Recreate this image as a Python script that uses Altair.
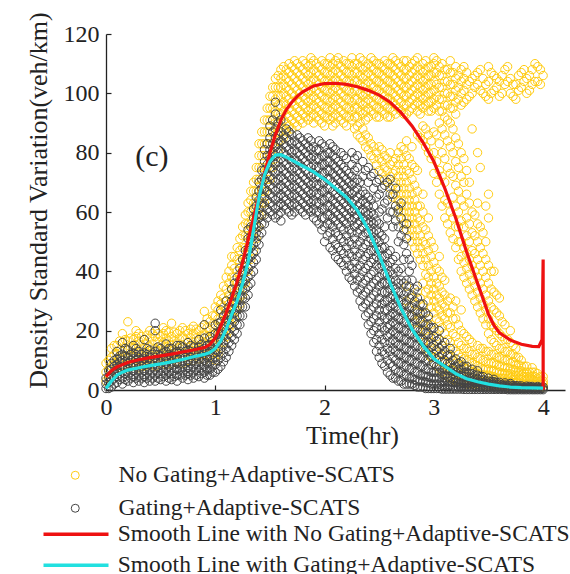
import altair as alt
import pandas as pd

NO_GATE = "No Gating+Adaptive-SCATS"
GATE = "Gating+Adaptive-SCATS"
SMOOTH_NO = "Smooth Line with No Gating+Adaptive-SCATS"
SMOOTH_G = "Smooth Line with Gating+Adaptive-SCATS"

x_ticks = [0, 1, 2, 3, 4]
y_ticks = [0, 20, 40, 60, 80, 100, 120]

# sample times (hr), first set
times = [0.0, 0.05, 0.1, 0.15, 0.2, 0.25, 0.3, 0.35, 0.4, 0.45,
         0.5, 0.55, 0.6, 0.65, 0.7, 0.75, 0.8, 0.85, 0.9, 0.95,
         1.0, 1.05, 1.1, 1.15, 1.2, 1.25, 1.3, 1.35, 1.4, 1.45,
         1.5, 1.55, 1.6, 1.65, 1.7, 1.75, 1.8, 1.85, 1.9, 1.95,
         2.0, 2.05, 2.1, 2.15, 2.2, 2.25, 2.3, 2.35, 2.4, 2.45,
         2.5, 2.55, 2.6, 2.65, 2.7, 2.75, 2.8, 2.85, 2.9, 2.95,
         3.0, 3.05, 3.1, 3.15, 3.2, 3.25, 3.3, 3.35, 3.4, 3.45,
         3.5, 3.55, 3.6, 3.65, 3.7, 3.75, 3.8, 3.85, 3.9, 3.95, 4.0]

# sample times (hr), second set
times_b = [0.025, 0.075, 0.125, 0.175, 0.225, 0.275, 0.325, 0.375, 0.425, 0.475,
           0.525, 0.575, 0.625, 0.675, 0.725, 0.775, 0.825, 0.875, 0.925, 0.975,
           1.025, 1.075, 1.125, 1.175, 1.225, 1.275, 1.325, 1.375, 1.425, 1.475,
           1.525, 1.575, 1.625, 1.675, 1.725, 1.775, 1.825, 1.875, 1.925, 1.975,
           2.025, 2.075, 2.125, 2.175, 2.225, 2.275, 2.325, 2.375, 2.425, 2.475,
           2.525, 2.575, 2.625, 2.675, 2.725, 2.775, 2.825, 2.875, 2.925, 2.975,
           3.025, 3.075, 3.125, 3.175, 3.225, 3.275, 3.325, 3.375, 3.425, 3.475,
           3.525, 3.575, 3.625, 3.675, 3.725, 3.775, 3.825, 3.875, 3.925, 3.975]

# No Gating + Adaptive-SCATS scatter values, first set
nogate_vals = [
    [3, 6, 9], [5, 8, 11, 14], [6, 9, 12, 15], [7, 10, 13, 16, 19],
    [7.5, 10.5, 13.5, 16.5, 23], [8, 11, 14, 17], [7.5, 10.5, 13.5, 16.5, 19],
    [8, 11, 14, 17], [8.5, 11.5, 14.5, 17.5, 20], [8, 11, 14, 18],
    [9, 12, 15, 18], [8.5, 11.5, 14.5, 17.5, 20], [9, 12, 15, 18, 22.5],
    [9.5, 12.5, 15.5, 19], [9, 12, 15, 18, 21], [10, 13, 16, 19],
    [10, 13, 16, 19, 21.5], [10.5, 13.5, 16.5, 20], [10, 13, 16, 19, 22, 26.5],
    [11, 14, 17, 20, 23],
    [10, 13, 16, 19, 22, 25, 28],
    [14, 17, 20, 23, 26, 29, 32],
    [18, 21, 24, 27, 30, 34, 38],
    [22, 25, 28, 31, 34, 38, 42, 45],
    [27, 30, 33, 36, 40, 44, 48],
    [32, 36, 40, 44, 48, 52, 55],
    [40, 44, 48, 52, 56, 60, 63],
    [47, 51, 55, 59, 63, 67, 70],
    [55, 59, 63, 67, 71, 75, 79, 83],
    [63, 67, 71, 75, 79, 83, 87, 91],
    [71, 75, 79, 83, 87, 91, 95, 99],
    [78, 82, 86, 90, 94, 98, 102, 105],
    [84, 87, 90, 93, 96, 99, 102, 105, 108],
    [87, 90, 93, 96, 99, 102, 105, 108],
    [88, 91, 94, 97, 100, 103, 106, 109],
    [89, 92, 95, 98, 101, 104, 107, 110],
    [90, 93, 96, 99, 102, 105, 108, 111],
    [91, 94, 97, 100, 103, 106, 109],
    [90, 93, 96, 99, 102, 105, 108, 111],
    [91, 94, 97, 100, 103, 106, 109],
    [89, 92, 95, 98, 101, 104, 107, 110],
    [91, 94, 97, 100, 103, 106, 109, 112],
    [90, 93, 96, 99, 102, 105, 108, 111],
    [91, 94, 97, 100, 103, 106, 109],
    [89, 92, 95, 98, 101, 104, 107, 110],
    [91, 94, 97, 100, 103, 106, 109, 112],
    [86, 89, 92, 95, 98, 101, 104, 107, 110],
    [84, 88, 93, 96, 99, 102, 105, 108, 111],
    [81, 85, 92, 95, 98, 101, 104, 107, 110],
    [78, 82, 93, 96, 99, 102, 105, 108, 111],
    [74, 78, 82, 92, 95, 98, 101, 104, 107, 110],
    [71, 75, 79, 93, 96, 99, 102, 105, 108, 111],
    [68, 72, 76, 80, 92, 95, 98, 101, 104, 107, 110],
    [62, 66, 70, 74, 78, 93, 96, 99, 102, 105, 108, 111],
    [58, 62, 66, 70, 74, 78, 82, 94, 97, 100, 103, 106, 109],
    [30, 35, 54, 58, 62, 66, 70, 74, 79, 84, 93, 96, 99, 102, 105, 108, 111],
    [25, 31, 50, 54, 58, 62, 66, 71, 76, 82, 95, 98, 101, 104, 107, 110],
    [20, 26, 33, 46, 50, 54, 58, 62, 67, 74, 86, 94, 97, 100, 103, 106, 109, 112],
    [16, 22, 28, 36, 42, 46, 50, 55, 60, 66, 84, 89, 95, 98, 101, 104, 107, 110],
    [12, 18, 24, 30, 34, 38, 42, 47, 52, 58, 80, 86, 94, 97, 100, 103, 106, 109],
    [9, 14, 20, 26, 30, 34, 38, 43, 48, 73, 80, 87, 95, 98, 101, 104, 107, 110, 112],
    [7, 12, 17, 23, 27, 31, 35, 40, 45, 66, 74, 83, 90, 94, 98, 102, 106, 109],
    [5, 9, 14, 19, 24, 28, 32, 37, 58, 64, 70, 78, 86, 92, 96, 100, 104, 108],
    [4, 7, 11, 16, 21, 26, 31, 53, 60, 73, 82, 90, 95, 99, 103, 107, 111],
    [3, 6, 9, 13, 18, 24, 30, 48, 55, 62, 69, 77, 85, 93, 97, 101, 105, 109],
    [3, 5, 8, 11, 15, 20, 27, 40, 45, 50, 57, 64, 72, 80, 96, 100, 104, 108],
    [2, 4, 7, 10, 14, 18, 36, 41, 46, 52, 58, 66, 74, 98, 103, 107],
    [2, 4, 6, 9, 12, 16, 32, 37, 42, 47, 53, 60, 88, 100, 105],
    [2, 3.5, 5.5, 8, 11, 15, 28, 33, 38, 44, 50, 56, 63, 80, 103, 107],
    [1.5, 3, 5, 7, 10, 14, 24, 29, 34, 40, 46, 53, 100, 105],
    [1.5, 3, 5, 7, 9, 13, 19, 24, 30, 36, 42, 58, 66, 98, 104, 109],
    [1.5, 3, 4.5, 6.5, 9, 12, 16, 21, 27, 33, 40, 101, 106],
    [1.5, 2.5, 4, 6, 8, 11, 14, 19, 25, 31, 99, 104],
    [1.5, 2.5, 4, 5.5, 7.5, 10, 13, 17, 22, 103, 108],
    [1.2, 2.5, 4, 5.5, 7, 9, 12, 16, 20, 100, 105],
    [1.2, 2.5, 3.5, 5, 6.5, 8.5, 11, 14, 98, 103],
    [1, 2, 3.5, 5, 6.5, 8, 10, 102, 107],
    [1, 2, 3, 4.5, 6, 8, 100, 105],
    [1, 2, 3, 4.5, 6, 7.5, 103, 108],
    [1, 2, 3, 4, 5.5, 104, 109],
    [1, 2, 3, 4.5, 106],
]

# No Gating + Adaptive-SCATS scatter values, second set
nogate_vals_b = [
    [4, 7, 10], [6, 9, 12, 15], [7.5, 10.5, 13.5, 16.5], [8, 11, 14, 17],
    [8.5, 11.5, 14.5, 17.5], [9, 12, 15, 18, 20], [9, 12, 15, 18],
    [9.5, 12.5, 15.5, 18.5], [9.5, 12.5, 15.5, 19], [10, 13, 16, 19],
    [10, 13, 16, 19, 21], [10.5, 13.5, 16.5, 19.5], [10.5, 13.5, 16.5, 19.5],
    [11, 14, 17, 20], [11, 14, 17, 20], [11.5, 14.5, 17.5, 20.5],
    [11.5, 14.5, 17.5, 20.5], [12, 15, 18, 21], [12, 15, 18, 21, 24],
    [12.5, 15.5, 18.5, 21.5, 25],
    [12, 15, 18, 21, 24, 27, 30],
    [16, 19, 22, 25, 28, 31, 35],
    [20, 23, 26, 29, 32, 36, 40],
    [24, 27, 30, 33, 37, 41, 45],
    [29, 32, 35, 39, 43, 47, 51],
    [36, 40, 44, 48, 52, 56, 59],
    [44, 48, 52, 56, 60, 64, 67],
    [51, 55, 59, 63, 67, 71, 75],
    [59, 63, 67, 71, 75, 79, 83, 87],
    [67, 71, 75, 79, 83, 87, 91, 95],
    [75, 79, 83, 87, 91, 95, 99, 102],
    [81, 84, 87, 90, 93, 96, 99, 102, 106],
    [85, 88, 91, 94, 97, 100, 103, 106, 109],
    [89, 92, 95, 98, 101, 104, 107, 110],
    [90, 93, 96, 99, 102, 105, 108, 111],
    [91, 94, 97, 100, 103, 106, 109],
    [92, 95, 98, 101, 104, 107, 110],
    [92, 95, 98, 101, 104, 107, 110, 112],
    [92, 95, 98, 101, 104, 107, 110],
    [90, 93, 96, 99, 102, 105, 108, 111],
    [92, 95, 98, 101, 104, 107, 110],
    [89, 92, 95, 98, 101, 104, 107, 110],
    [92, 95, 98, 101, 104, 107, 110, 112],
    [90, 93, 96, 99, 102, 105, 108, 111],
    [92, 95, 98, 101, 104, 107, 110],
    [88, 92, 95, 98, 101, 104, 107, 110],
    [85, 90, 94, 97, 100, 103, 106, 109, 112],
    [82, 86, 91, 94, 97, 100, 103, 106, 109],
    [79, 83, 94, 97, 100, 103, 106, 109, 112],
    [76, 80, 92, 95, 98, 101, 104, 107, 110],
    [73, 77, 81, 94, 97, 100, 103, 106, 109],
    [70, 74, 78, 92, 95, 98, 101, 104, 107, 110],
    [65, 69, 73, 77, 94, 97, 100, 103, 106, 109, 112],
    [60, 64, 68, 72, 76, 80, 95, 98, 101, 104, 107, 110],
    [56, 60, 64, 68, 72, 76, 81, 93, 96, 99, 102, 105, 108, 111],
    [28, 52, 56, 60, 64, 68, 73, 78, 94, 97, 100, 103, 106, 109],
    [23, 29, 48, 52, 56, 60, 64, 69, 75, 96, 99, 102, 105, 108, 111],
    [18, 24, 31, 44, 48, 52, 57, 62, 85, 93, 96, 99, 102, 105, 108],
    [14, 20, 26, 33, 39, 44, 49, 54, 82, 88, 96, 99, 102, 105, 108, 111],
    [11, 16, 22, 28, 32, 36, 40, 45, 50, 78, 84, 94, 97, 100, 103, 106, 109],
    [8, 13, 18, 24, 28, 32, 36, 41, 70, 77, 86, 96, 99, 103, 107, 111],
    [6, 10, 15, 21, 25, 29, 33, 38, 62, 72, 80, 88, 94, 98, 102, 106, 110],
    [4.5, 8, 12, 17, 22, 26, 30, 56, 63, 75, 84, 91, 96, 100, 104, 108],
    [3.5, 6.5, 10, 14, 19, 24, 28, 51, 58, 65, 72, 80, 88, 95, 99, 103, 107],
    [3, 5.5, 8.5, 12, 16, 22, 44, 50, 55, 60, 67, 75, 83, 98, 102, 106],
    [2.5, 4.5, 7.5, 10.5, 14, 19, 38, 43, 48, 55, 62, 70, 78, 97, 101, 105, 109],
    [2, 4, 6.5, 9.5, 13, 17, 34, 39, 44, 50, 56, 63, 70, 99, 104],
    [2, 3.5, 6, 8.5, 12, 30, 35, 40, 46, 52, 59, 102, 106],
    [1.5, 3, 5, 7.5, 10.5, 14, 26, 31, 36, 42, 48, 55, 75, 101, 108],
    [1.5, 3, 5, 7, 9.5, 13, 22, 27, 32, 38, 44, 50, 62, 99, 103],
    [1.5, 3, 4.5, 6.5, 9, 12, 17, 22, 28, 34, 40, 100, 107],
    [1.5, 2.5, 4, 6, 8.5, 11, 15, 20, 26, 32, 102, 105],
    [1.5, 2.5, 4, 5.5, 8, 10.5, 14, 18, 23, 100, 106],
    [1.2, 2.5, 4, 5.5, 7.5, 10, 13, 17, 104, 109],
    [1.2, 2.5, 3.5, 5, 7, 9.5, 12, 15, 99, 103],
    [1, 2, 3.5, 5, 6.5, 8.5, 11, 101, 106],
    [1, 2, 3, 4.5, 6, 8, 104, 108],
    [1, 2, 3, 4.5, 6, 101, 106],
    [1, 2, 3, 4.5, 6, 104, 110],
    [1, 2, 3, 4.5, 103, 108],
]

# Gating + Adaptive-SCATS scatter values, first set
gate_vals = [
    [0.5, 2, 4], [1, 3, 5, 7, 9], [2.5, 4.5, 6.5, 8.5, 10.5, 13],
    [2, 4, 6, 8, 10, 12, 16], [3, 5, 7, 9, 11, 13.5], [2.5, 4.5, 6.5, 8.5, 10.5, 12.5, 15],
    [3, 5, 7, 9, 11, 13], [2.5, 4.5, 6.5, 8.5, 10.5, 12.5, 17], [3, 5, 7, 9, 11, 13.5],
    [3, 5, 7, 9, 11, 13, 20, 22.5], [3.5, 5.5, 7.5, 9.5, 11.5, 14], [3, 5, 7, 9, 11, 13, 15.5],
    [3.5, 5.5, 7.5, 9.5, 11.5, 14], [3, 5, 7, 9, 11, 13, 15], [4, 6, 8, 10, 12, 14.5],
    [3.5, 5.5, 7.5, 9.5, 11.5, 13.5, 16], [4, 6, 8, 10, 12, 14.5],
    [4.5, 6.5, 8.5, 10.5, 12.5, 14.5, 17], [4, 6, 8, 10, 12, 14, 17.5, 22],
    [5, 7, 9, 11, 13, 15, 18],
    [6, 8.5, 11, 13.5, 16, 19, 22],
    [8, 11, 14, 17, 20, 23, 27],
    [11, 14, 17, 20, 23, 26, 30],
    [15, 18, 21, 24, 27, 30, 34],
    [19, 22, 25, 28, 31, 34, 38],
    [25, 28, 31, 34, 37, 40, 44],
    [32, 35, 38, 41, 44, 47, 51, 54],
    [40, 43, 46, 49, 52, 55, 58, 61],
    [49, 52, 55, 58, 61, 64, 67, 70],
    [56, 59, 62, 65, 68, 71, 74, 77, 81],
    [60, 63, 66, 69, 72, 75, 78, 81, 85, 89],
    [58, 61, 64, 67, 70, 73, 76, 79, 82, 85, 88, 93, 97],
    [57, 60, 63, 66, 69, 72, 75, 78, 81, 84, 87, 91],
    [61, 64, 67, 70, 73, 76, 79, 82, 85, 88],
    [59, 62, 65, 68, 71, 74, 77, 80, 83, 86],
    [62, 65, 68, 71, 74, 77, 80, 83, 86],
    [60, 63, 66, 69, 72, 75, 78, 81, 84],
    [61, 64, 67, 70, 73, 76, 79, 82, 85],
    [58, 61, 64, 67, 70, 73, 76, 79, 82],
    [56, 60, 63, 66, 69, 72, 75, 78, 81, 84],
    [50, 55, 58, 61, 64, 67, 70, 73, 76, 79, 82],
    [48, 53, 56, 59, 62, 65, 68, 71, 74, 77, 80, 83],
    [45, 49, 53, 57, 60, 63, 66, 69, 72, 75, 78, 81],
    [43, 47, 51, 55, 58, 61, 64, 67, 70, 73, 76, 80],
    [40, 44, 48, 52, 56, 59, 62, 65, 68, 71, 74, 78],
    [37, 41, 45, 49, 53, 57, 60, 63, 66, 69, 72, 76, 80],
    [33, 37, 41, 45, 49, 53, 56, 59, 62, 65, 68, 71, 75, 79],
    [28, 32, 36, 40, 44, 48, 52, 55, 58, 61, 64, 67, 72, 77],
    [22, 26, 30, 34, 38, 42, 46, 50, 53, 56, 59, 62, 65, 70, 75],
    [16, 20, 24, 28, 32, 36, 40, 44, 47, 50, 53, 56, 59, 62, 68, 73],
    [11, 15, 19, 23, 27, 31, 35, 38, 41, 44, 47, 50, 53, 56, 60, 66, 71],
    [8, 12, 16, 20, 24, 27, 30, 33, 36, 39, 42, 45, 48, 51, 55, 63, 69],
    [5, 9, 13, 16, 19, 22, 25, 28, 31, 34, 37, 40, 43, 47, 60, 66, 71],
    [4, 7, 10, 13, 16, 19, 22, 25, 28, 31, 34, 37, 41, 45, 57, 62, 68],
    [3, 6, 9, 12, 15, 18, 21, 24, 27, 30, 33, 37, 41, 52, 58, 63],
    [2, 5, 8, 11, 14, 17, 20, 23, 26, 29, 33, 37, 46, 51, 56],
    [2, 4, 7, 10, 13, 16, 19, 22, 25, 28, 32, 37, 42],
    [1, 3, 6, 9, 12, 15, 18, 21, 24, 27, 31, 35],
    [1, 3, 5, 8, 11, 14, 17, 20, 23, 26, 29],
    [0.5, 2.5, 4.5, 7, 10, 13, 16, 19, 22, 25],
    [0.5, 2, 4, 6, 9, 12, 15, 18, 21],
    [0.5, 2, 4, 6, 8, 11, 14, 17, 20],
    [0.3, 1.5, 3, 5, 7, 10, 13, 16],
    [0.3, 1.5, 3, 4.5, 6.5, 9, 12, 14],
    [0.3, 1.2, 2.5, 4, 6, 8, 10.5],
    [0.3, 1, 2, 3.5, 5, 7, 9.5],
    [0.2, 1, 2, 3, 4.5, 6, 8],
    [0.2, 1, 2, 3, 4, 5.5, 7],
    [0.2, 0.8, 1.6, 2.6, 3.6, 5, 6.5],
    [0.2, 0.8, 1.5, 2.4, 3.4, 4.5],
    [0.2, 0.7, 1.4, 2.2, 3, 4],
    [0.2, 0.7, 1.3, 2, 2.8, 3.6],
    [0.2, 0.6, 1.2, 1.9, 2.6],
    [0.2, 0.6, 1.1, 1.7, 2.4],
    [0.1, 0.5, 1, 1.6, 2.2],
    [0.1, 0.5, 1, 1.5],
    [0.1, 0.5, 0.9, 1.4],
    [0.1, 0.5, 0.9, 1.3],
    [0.1, 0.4, 0.8, 1.2],
    [0.1, 0.4, 0.8, 1.2],
    [0.1, 0.5, 1],
]

# Gating + Adaptive-SCATS scatter values, second set
gate_vals_b = [
    [0.5, 2.5, 4.5, 6.5], [2, 4, 6, 8, 10], [3.5, 5.5, 7.5, 9.5, 11.5],
    [3.5, 5.5, 7.5, 9.5, 11.5, 14], [4, 6, 8, 10, 12], [4, 6, 8, 10, 12, 14],
    [4, 6, 8, 10, 12], [4, 6, 8, 10, 12, 14], [4, 6, 8, 10, 12],
    [4, 6, 8, 10, 12, 14.5], [4.5, 6.5, 8.5, 10.5, 12.5], [4, 6, 8, 10, 12, 14],
    [4.5, 6.5, 8.5, 10.5, 12.5], [5, 7, 9, 11, 13, 15], [5, 7, 9, 11, 13],
    [5, 7, 9, 11, 13, 15], [5, 7, 9, 11, 13], [5.5, 7.5, 9.5, 11.5, 13.5, 15.5],
    [5, 7, 9, 11, 13, 15], [6, 8, 10, 12, 14, 16.5],
    [7, 10, 13, 16, 19, 22.5],
    [9.5, 12.5, 15.5, 18.5, 21.5, 25],
    [13, 16, 19, 22, 25, 28],
    [17, 20, 23, 26, 29, 32, 36],
    [22, 25, 28, 31, 34, 37, 41],
    [28, 31, 34, 37, 40, 43, 47],
    [36, 39, 42, 45, 48, 51, 55],
    [44, 47, 50, 53, 56, 59, 62, 65],
    [53, 56, 59, 62, 65, 68, 71, 74],
    [58, 61, 64, 67, 70, 73, 76, 79, 83],
    [59, 62, 65, 68, 71, 74, 77, 80, 83, 87, 91],
    [59, 62, 65, 68, 71, 74, 77, 80, 83, 86, 90],
    [62, 65, 68, 71, 74, 77, 80, 83, 86],
    [60, 63, 66, 69, 72, 75, 78, 81, 84, 87],
    [60, 63, 66, 69, 72, 75, 78, 81, 84],
    [61, 64, 67, 70, 73, 76, 79, 82, 85],
    [59, 62, 65, 68, 71, 74, 77, 80, 83],
    [60, 63, 66, 69, 72, 75, 78, 81, 84],
    [57, 60, 63, 66, 69, 72, 75, 78, 81],
    [54, 58, 61, 64, 67, 70, 73, 76, 79, 83],
    [52, 56, 59, 62, 65, 68, 71, 74, 77, 80],
    [47, 51, 55, 58, 61, 64, 67, 70, 73, 76, 79, 82],
    [44, 48, 52, 56, 59, 62, 65, 68, 71, 74, 77],
    [42, 46, 50, 54, 57, 60, 63, 66, 69, 72, 75, 79],
    [38, 42, 46, 50, 54, 58, 61, 64, 67, 70, 73],
    [35, 39, 43, 47, 51, 55, 58, 61, 64, 67, 70, 74, 78],
    [30, 34, 38, 42, 46, 50, 54, 57, 60, 63, 66, 70],
    [25, 29, 33, 37, 41, 45, 49, 53, 57, 60, 63, 66, 74],
    [19, 23, 27, 31, 35, 39, 43, 47, 51, 54, 57, 60, 64, 72],
    [13, 17, 21, 25, 29, 33, 37, 42, 45, 48, 51, 54, 57, 65, 70],
    [9, 13, 17, 21, 25, 29, 33, 36, 39, 42, 45, 48, 52, 61, 68],
    [6, 10, 14, 18, 21, 24, 27, 30, 33, 36, 39, 42, 46, 58, 64, 70],
    [4, 8, 11, 14, 17, 20, 23, 26, 29, 32, 35, 39, 44, 55, 60, 66],
    [3, 6, 9, 12, 15, 18, 21, 24, 27, 30, 33, 36, 40, 50, 55, 61],
    [2, 5, 8, 11, 14, 17, 20, 23, 26, 29, 32, 36, 44, 49, 54],
    [2, 4, 7, 10, 13, 16, 19, 22, 25, 28, 31, 35, 40, 44],
    [1.5, 3.5, 6, 9, 12, 15, 18, 21, 24, 27, 30, 34],
    [1, 3, 5, 8, 11, 14, 17, 20, 23, 26, 29],
    [0.5, 2.5, 4.5, 7, 10, 13, 16, 19, 22, 26],
    [0.5, 2, 4, 6, 8.5, 11.5, 14.5, 17.5, 21],
    [0.5, 2, 4, 6, 8, 10.5, 13.5, 16.5],
    [0.3, 1.5, 3, 5, 7, 9.5, 12, 15],
    [0.3, 1.5, 3, 4.5, 6.5, 9, 11.5],
    [0.3, 1.2, 2.5, 4, 5.5, 7.5, 10],
    [0.3, 1, 2, 3.5, 5, 7, 9],
    [0.2, 1, 2, 3, 4.5, 6, 8],
    [0.2, 1, 2, 3, 4, 5.5],
    [0.2, 0.8, 1.6, 2.6, 3.6, 5],
    [0.2, 0.8, 1.5, 2.4, 3.4, 4.5],
    [0.2, 0.7, 1.4, 2.2, 3],
    [0.2, 0.7, 1.3, 2, 2.8],
    [0.2, 0.6, 1.2, 1.9, 2.6],
    [0.2, 0.6, 1.1, 1.7],
    [0.1, 0.5, 1, 1.6],
    [0.1, 0.5, 1, 1.5],
    [0.1, 0.5, 0.9, 1.4],
    [0.1, 0.5, 0.9],
    [0.1, 0.4, 0.8, 1.2],
    [0.1, 0.4, 0.8],
    [0.1, 0.5, 0.9],
]

# smooth lines
red_t = [0, 0.05, 0.1, 0.2, 0.3, 0.4, 0.5, 0.6, 0.7, 0.8,
         0.9, 0.95, 1.0, 1.05, 1.1, 1.15, 1.2, 1.25, 1.3, 1.35,
         1.4, 1.45, 1.5, 1.55, 1.6, 1.65, 1.7, 1.75, 1.8, 1.9,
         2.0, 2.1, 2.2, 2.3, 2.4, 2.5, 2.6, 2.7, 2.8, 2.9,
         3.0, 3.1, 3.2, 3.3, 3.4, 3.5, 3.55, 3.6, 3.7, 3.8,
         3.9, 3.96, 3.99, 4.0, 4.0]
red_v = [4.5, 6.5, 7.8, 9.3, 10.2, 10.9, 11.5, 12.1, 12.8, 13.5,
         14.3, 15.3, 17.5, 21.5, 26, 31, 36.5, 43, 50.5, 58,
         65.5, 73, 80, 86, 91, 94.5, 97, 99, 100.5, 102.5,
         103.3, 103.4, 103, 102.2, 101, 99.4, 97, 93.5, 89, 83.5,
         77, 68, 58, 46.5, 36, 25.5, 21.8, 19.3, 16.8, 15.4,
         14.7, 14.6, 17, 44, 0]
cyan_t = [0, 0.05, 0.1, 0.15, 0.2, 0.3, 0.4, 0.5, 0.6, 0.7,
          0.8, 0.9, 0.95, 1.0, 1.05, 1.1, 1.15, 1.2, 1.25, 1.3,
          1.35, 1.4, 1.45, 1.5, 1.55, 1.6, 1.65, 1.7, 1.8, 1.9,
          2.0, 2.1, 2.2, 2.3, 2.4, 2.5, 2.6, 2.7, 2.8, 2.9,
          3.0, 3.1, 3.2, 3.3, 3.4, 3.5, 3.6, 3.7, 3.8, 3.9, 4.0]
cyan_v = [0.5, 3, 5, 6, 6.7, 7.5, 8.2, 8.8, 9.5, 10.3,
          11.2, 12, 12.6, 14, 16.5, 20.5, 25.5, 30, 36, 43,
          54, 65, 72.5, 77, 79.2, 79.3, 78.5, 77.5, 75.5, 73.5,
          71, 68, 65, 60.5, 54, 45.5, 36, 27.5, 20.5, 15,
          10.5, 8, 5.5, 3.8, 2.8, 2, 1.4, 1.0, 0.8, 0.7, 0.6]

panel_label = ["(c)"]
panel_label_t = [0.42]
panel_label_v = [78.5]

# ---- build tables ----
rows = []
for ts, vals, name in [(times, nogate_vals, NO_GATE), (times_b, nogate_vals_b, NO_GATE),
                       (times, gate_vals, GATE), (times_b, gate_vals_b, GATE)]:
    for t, vs in zip(ts, vals, strict=True):
        for v in vs:
            rows.append({"t": t, "v": v, "series": name})
pts = pd.DataFrame(rows)

red_df = pd.DataFrame({"t": red_t, "v": red_v, "series": SMOOTH_NO,
                       "i": list(range(len(red_t)))})
cyan_df = pd.DataFrame({"t": cyan_t, "v": cyan_v, "series": SMOOTH_G,
                        "i": list(range(len(cyan_t)))})
lab_df = pd.DataFrame({"t": panel_label_t, "v": panel_label_v, "txt": panel_label})

FONT = "Liberation Serif"
INK = "#222222"
W, H = 459, 356

xscale = alt.Scale(domain=[0, 4.2], nice=False, zero=False)
yscale = alt.Scale(domain=[0, 120], nice=False)

points = alt.Chart(pts).mark_point(filled=False, size=70, strokeWidth=1, opacity=1).encode(
    x=alt.X("t:Q", scale=xscale, axis=alt.Axis(
        values=x_ticks, format="d", grid=False, ticks=False, labelFlush=False,
        labelFont=FONT, labelFontSize=24, labelColor=INK, labelPadding=5,
        domainColor=INK, domainWidth=1.3,
        title="Time(hr)", titleFont=FONT, titleFontSize=26, titleFontWeight="normal",
        titleColor=INK, titleX=246, titleY=53, titleBaseline="alphabetic")),
    y=alt.Y("v:Q", scale=yscale, axis=alt.Axis(
        values=y_ticks, grid=False, ticks=False, labelFlush=False,
        labelFont=FONT, labelFontSize=24, labelColor=INK, labelPadding=7,
        domainColor=INK, domainWidth=1.3,
        title="Density Standard Variation(veh/km)", titleFont=FONT, titleFontSize=26,
        titleFontWeight="normal", titleColor=INK, titleAngle=270,
        titleX=-60, titleY=166, titleBaseline="alphabetic")),
    color=alt.Color("series:N",
                    scale=alt.Scale(domain=[NO_GATE, GATE], range=["#FFCC11", "#444444"]),
                    legend=alt.Legend(title=None, orient="none", legendX=-42.5, legendY=429.5,
                                      symbolType="circle", symbolSize=64, symbolStrokeWidth=1,
                                      labelFont=FONT, labelFontSize=23.5, labelColor=INK,
                                      labelLimit=1000, labelOffset=31.5, rowPadding=8,
                                      padding=0)),
)

line_scale = alt.Scale(domain=[SMOOTH_NO, SMOOTH_G], range=["#EE1111", "#22E0E0"])
line_legend = alt.Legend(title=None, orient="none", legendX=-41.75, legendY=488.5,
                         symbolType="M-5,0H5", symbolSize=169, symbolStrokeWidth=3.5,
                         labelFont=FONT, labelFontSize=23.5, labelColor=INK,
                         labelLimit=1000, labelOffset=30, rowPadding=6, padding=0)

red_line = alt.Chart(red_df).mark_line(strokeWidth=3.2).encode(
    x=alt.X("t:Q", scale=xscale, axis=alt.Axis(
        orient="top", offset=-H, values=x_ticks, labels=False, domain=False,
        grid=False, tickSize=5, tickColor=INK, tickWidth=1.2, title=None)),
    y=alt.Y("v:Q", scale=yscale, axis=alt.Axis(
        orient="right", offset=-W, values=y_ticks, labels=False, domain=False,
        grid=False, tickSize=5, tickColor=INK, tickWidth=1.2, title=None)),
    stroke=alt.Stroke("series:N", scale=line_scale, legend=line_legend),
    order="i:Q",
)

cyan_line = alt.Chart(cyan_df).mark_line(strokeWidth=3.2).encode(
    x=alt.X("t:Q", scale=xscale, axis=None),
    y=alt.Y("v:Q", scale=yscale, axis=None),
    stroke=alt.Stroke("series:N", scale=line_scale, legend=line_legend),
    order="i:Q",
)

label = alt.Chart(lab_df).mark_text(font=FONT, fontSize=30, color=INK,
                                    align="center", baseline="middle").encode(
    x=alt.X("t:Q", scale=xscale, axis=None),
    y=alt.Y("v:Q", scale=yscale, axis=None),
    text="txt:N",
)

chart = alt.layer(points, red_line, cyan_line, label).resolve_axis(
    x="independent", y="independent"
).properties(
    width=W, height=H,
    autosize=alt.AutoSizeParams(type="none"),
    padding={"left": 106, "top": 34, "right": 5, "bottom": 184},
    background="white",
).configure_view(stroke=None)

chart.save("out.html", embed_options={"renderer": "svg", "actions": False})
